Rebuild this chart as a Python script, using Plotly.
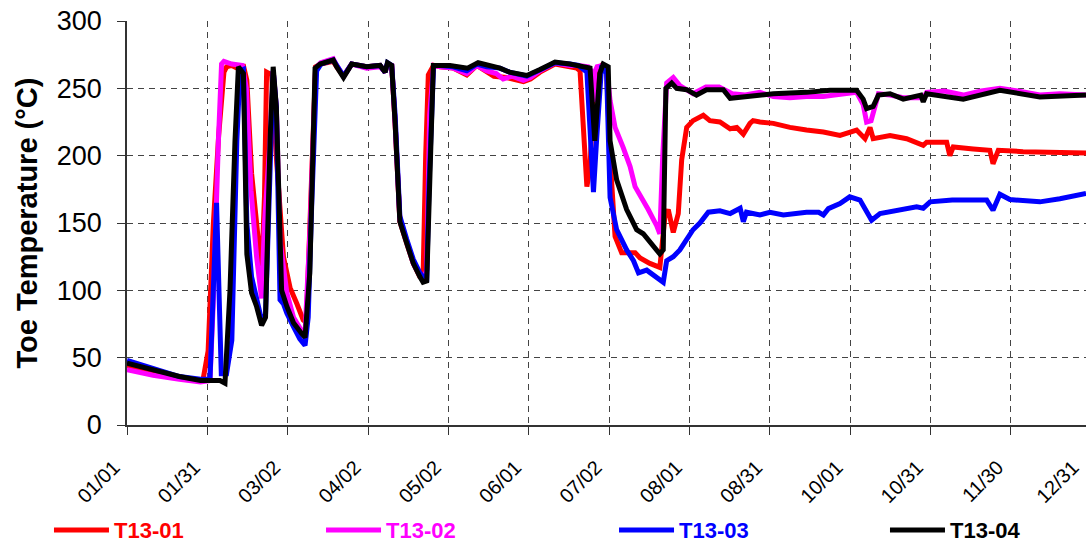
import plotly.graph_objects as go

# ---------------- data (day of year, temperature °C) ----------------
tick_days = [0, 30.5, 61, 91.5, 122, 152.5, 183, 213.5, 244, 274.5, 305, 335.5, 364.1]
tick_labels = ["01/01", "01/31", "03/02", "04/02", "05/02", "06/01", "07/02",
               "08/01", "08/31", "10/01", "10/31", "11/30", "12/31"]

days_t1 = [0, 9.9, 19.9, 27.9, 28.9, 30.8, 32.8, 34.8, 36.8, 37.8, 39.8, 41.8, 44.3, 45.5, 47.3, 49.2,
           51.1, 52.2, 53.0, 54.9, 56.7, 59.4, 61.9, 64.5, 66.9, 68.1, 70.1, 71.6, 73.6, 78.3, 79.6,
           82.2, 85.3, 91.0, 96.1, 98.0, 98.9, 100.5, 101.8, 103.1, 103.6, 106.2, 108.7, 111.2, 112.4,
           113.4, 114.4, 116.4, 118.9, 123.8, 129.0, 132.8, 136.6, 139.3, 144.2, 150.5, 153.2, 156.8,
           162.5, 168.1, 170.7, 172.0, 173.3, 174.6, 175.8, 177.1, 178.3, 180.2, 182.1, 183.4, 185.3,
           187.8, 192.9, 194.8, 198.5, 202.3, 204.2, 205.5, 207.4, 209.3, 210.6, 212.5, 214.9, 218.8,
           221.3, 225.1, 229.0, 231.5, 234.0, 236.5, 237.7, 240.3, 245.4, 251.7, 258.0, 264.4, 270.7,
           277.0, 280.2, 282.1, 283.3, 289.7, 296.0, 302.3, 303.6, 311.2, 312.4, 313.7, 321.3, 327.6,
           328.8, 330.8, 340.2, 352.9, 364.1]
temp_t1 = [44, 39, 35, 33, 34, 55, 150, 215, 262, 266, 267, 265, 266, 256, 187, 145, 113, 170, 262,
           260, 199, 125, 102, 90, 78, 76, 180, 266, 268, 270, 266, 259, 268, 266, 267,
           262, 268, 267, 224, 174, 151, 135, 120, 110, 109, 200, 260, 267, 266,
           265, 260, 267, 262, 259, 258, 255, 257, 262, 268, 266, 265, 263, 224,
           177, 191, 249, 263, 267, 263, 199, 140, 128, 128, 124, 120, 117,
           154, 160, 143, 157, 197, 221, 226, 230, 226, 225, 220, 221, 216,
           224, 226, 225, 224, 221, 219, 217.6, 215, 219, 212.6, 221, 212.6, 215,
           212.6, 207.7, 210, 210, 200, 206.5, 205, 204, 194, 204, 203, 202, 202]

days_t2 = [0, 9.9, 19.9, 27.9, 31.5, 32.7, 34.7, 35.9, 36.8, 39.8, 43.8, 45.3, 47.1, 49.2, 51.1, 52.2,
           54.3, 55.5, 56.7, 58.1, 60.7, 63.2, 66.3, 67.6, 69.6, 71.6, 73.6, 78.3, 79.6, 82.2, 85.3,
           91.0, 96.1, 98.0, 98.9, 100.5, 101.8, 103.1, 103.6, 106.2, 108.7, 111.2, 112.4, 113.8,
           114.9, 116.4, 118.9, 123.8, 129.0, 132.8, 136.6, 140.2, 142.8, 146.2, 150.5, 153.2, 156.8,
           162.5, 168.1, 171.4, 175.1, 176.6, 177.1, 177.6, 178.5, 180.8, 182.1, 183.4, 185.3, 188.4,
           191.0, 192.9, 195.4, 197.9, 201.1, 202.3, 203.4, 204.9, 207.4, 209.9, 214.9, 219.8, 224.8,
           229.8, 234.7, 240.3, 245.4, 251.7, 258.0, 264.4, 268.6, 277.0, 279.5, 280.8, 282.5, 284.0,
           285.3, 289.7, 294.7, 302.3, 303.6, 310.3, 317.5, 324.3, 331.4, 338.2, 346.6, 354.1, 364.1]
temp_t2 = [41, 37, 34, 32, 33, 88, 211, 268, 270, 268, 267, 250, 174, 125, 94, 150, 211,
           263, 236, 137, 98, 80, 70, 68, 150, 265, 269, 272, 267, 259, 268, 265, 266, 262,
           268, 267, 224, 175, 152, 136, 120, 111, 108, 115, 230, 267, 266, 265,
           261, 267, 263, 261, 257, 259, 256, 258, 263, 269, 267, 267, 266, 262,
           240, 262, 266, 267, 265, 241, 221, 206, 192, 177, 169, 160, 148,
           142, 200, 254, 258, 252, 246, 251, 251, 246, 245, 247, 244, 243, 244, 244,
           245, 247, 238, 225, 226, 238, 246, 245, 243, 243, 247, 248, 245, 248,
           250, 248, 245, 246, 245]

days_t3 = [0, 9.9, 19.9, 27.9, 31.5, 34.0, 35.8, 37.8, 39.8, 41.7, 42.9, 44.2, 45.5, 47.3, 49.2, 51.1,
           52.6, 54.3, 55.5, 56.7, 58.1, 59.4, 60.7, 63.2, 65.6, 67.6, 68.8, 70.1, 72.0, 73.6, 78.3,
           79.6, 82.2, 85.3, 91.0, 96.1, 98.0, 98.9, 100.5, 101.8, 103.1, 103.6, 106.2, 108.7, 111.2,
           112.4, 113.8, 114.7, 116.4, 118.9, 123.8, 129.0, 132.8, 136.6, 141.6, 145.2, 151.8, 156.8,
           162.5, 168.1, 171.4, 174.6, 177.1, 178.3, 180.2, 182.1, 183.4, 185.9, 189.7, 192.3, 194.2,
           197.3, 201.1, 203.6, 204.9, 207.4, 209.9, 212.5, 214.9, 217.5, 220.7, 225.1, 229.0, 232.8,
           234.0, 235.2, 240.3, 244.1, 249.2, 258.0, 262.6, 264.4, 266.3, 270.7, 274.4, 278.3, 280.5,
           282.7, 285.9, 293.4, 299.8, 302.3, 304.9, 313.3, 321.3, 326.4, 328.8, 331.4, 335.2, 346.6,
           354.2, 364.1]
temp_t3 = [48, 42, 36, 34, 34, 165, 38, 38, 63, 211, 263, 264, 150, 110, 92, 78, 82,
           200, 263, 236, 93, 90, 83, 73, 64, 59, 80, 162, 263, 268, 271, 267, 259, 268,
           266, 267, 262, 269, 267, 230, 180, 155, 138, 123, 113, 110, 109, 180,
           267, 267, 266, 263, 268, 266, 265, 262, 259, 264, 269, 268, 267,
           262, 173, 212, 267, 261, 169, 145, 130, 122, 113, 115, 109, 106,
           122, 125, 130, 137, 145, 150, 158, 159, 157, 161, 151, 158, 156,
           158, 156, 158, 158, 156, 160.7, 164.4, 169.4, 167, 160, 152, 157, 159.5,
           162, 161, 165.7, 167, 167.4, 167, 159.5, 171.4, 167.4, 165.7, 168, 172]

days_t4 = [0, 9.9, 19.9, 27.9, 35.3, 37.2, 39.1, 41.0, 42.3, 44.2, 45.5, 47.3, 49.2, 51.1, 52.6, 54.3,
           55.5, 56.7, 58.7, 60.7, 63.2, 66.3, 67.6, 69.4, 71.4, 73.3, 78.3, 79.6, 82.2, 85.3, 91.0,
           96.1, 98.0, 98.9, 100.5, 101.8, 103.1, 103.6, 106.2, 108.7, 111.2, 112.4, 113.8, 116.3,
           122.6, 127.7, 129.3, 133.3, 137.8, 141.6, 145.2, 151.8, 156.8, 162.5, 168.1, 171.4, 175.8,
           177.6, 179.5, 180.8, 182.7, 183.4, 185.9, 189.7, 193.5, 196.0, 198.5, 202.3, 203.6, 204.6,
           206.8, 208.7, 212.5, 216.2, 220.0, 226.4, 229.0, 235.2, 240.3, 245.4, 258.0, 266.9, 277.0,
           279.5, 280.8, 283.3, 285.3, 289.7, 294.7, 301.4, 302.3, 303.6, 317.5, 331.4, 346.6, 359.1,
           364.1]
temp_t4 = [46, 41, 36, 33, 33, 31, 100, 211, 266, 261, 127, 98, 88, 74, 80, 211,
           266, 236, 100, 88, 76, 68, 65, 113, 265, 268, 271, 266, 258, 268, 266, 267,
           262, 269, 267, 224, 174, 151, 135, 120, 110, 106, 107, 267, 267,
           266, 265, 269, 267, 265, 262, 259.6, 264, 269.5, 268, 267, 265, 211,
           261, 268, 266, 211, 182, 160, 145, 142, 136, 127, 130, 250,
           254, 250, 249, 245, 249, 249, 242.6, 243.6, 245, 246, 247, 248.5,
           248.5, 242, 235, 236.6, 245, 246, 242, 245, 240, 246, 242, 248.5, 243.6,
           245, 245]

series = [
    ("T13-01", days_t1, temp_t1, "#FF0000"),
    ("T13-02", days_t2, temp_t2, "#FF00FF"),
    ("T13-03", days_t3, temp_t3, "#0000FF"),
    ("T13-04", days_t4, temp_t4, "#000000"),
]
legend_x = [0.0451, 0.2956, 0.5654, 0.8149]

FONT = "Arial, Liberation Sans, sans-serif"

fig = go.Figure()
legend_ids = ["legend", "legend2", "legend3", "legend4"]
for (name, xs, ys, col), lid in zip(series, legend_ids):
    fig.add_trace(go.Scatter(
        x=xs, y=ys, mode="lines",
        name=f"<span style='color:{col}'><b>{name}</b></span>",
        line=dict(color=col, width=5),
        legend=lid,
    ))

legend_common = dict(
    orientation="h", xref="container", yref="container",
    y=0.022, xanchor="left", yanchor="middle",
    font=dict(size=22, family=FONT),
    itemwidth=55, bgcolor="rgba(0,0,0,0)",
)
layout_legends = {}
for lid, lx in zip(legend_ids, legend_x):
    layout_legends[lid] = dict(legend_common, x=lx)

fig.update_layout(
    width=1086, height=542,
    margin=dict(l=127, r=0, t=21, b=117, autoexpand=False),
    paper_bgcolor="white", plot_bgcolor="white",
    font=dict(family=FONT, color="black"),
    showlegend=True,
    **layout_legends,
)

fig.update_xaxes(
    range=[0, 364.1], tickmode="array", tickvals=tick_days, ticktext=tick_labels,
    tickangle=-45, tickfont=dict(size=20, family=FONT, color="black"),
    ticks="outside", ticklen=8, tickcolor="#333", tickwidth=1,
    ticklabelstandoff=13, ticklabelshift=-13,
    ticklabeloverflow="allow", automargin=False,
    showline=True, linecolor="#333", linewidth=1.5,
    showgrid=True, gridcolor="#444", gridwidth=1, griddash="6px,5px",
    zeroline=False,
)
fig.update_yaxes(
    range=[0, 300], tickvals=[0, 50, 100, 150, 200, 250, 300],
    tickfont=dict(size=27, family=FONT, color="black"),
    ticks="outside", ticklen=8, tickcolor="#333", tickwidth=1, ticklabelstandoff=10,
    showline=True, linecolor="#333", linewidth=1.5, automargin=False,
    showgrid=True, gridcolor="#444", gridwidth=1, griddash="6px,5px",
    zeroline=False,
    title=dict(text="<b>Toe Temperature (°C)</b>", font=dict(size=29, family=FONT), standoff=11),
)

fig.write_html("out.html")
